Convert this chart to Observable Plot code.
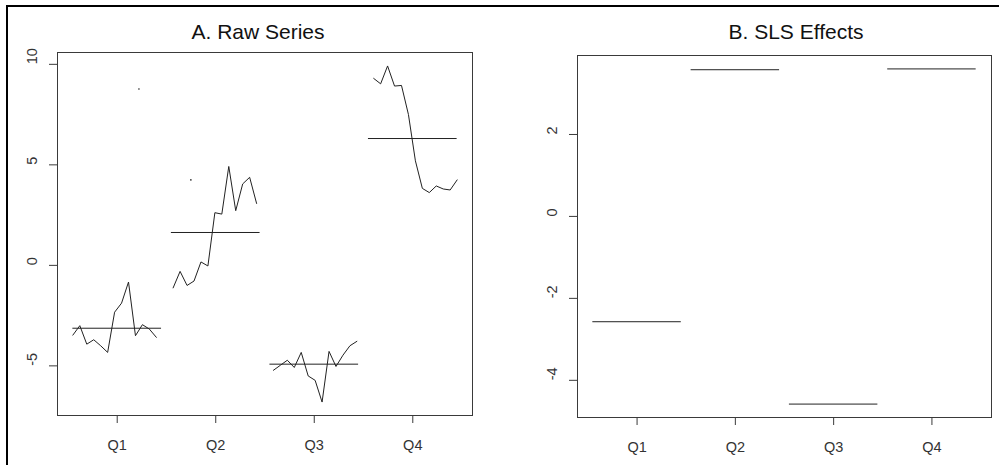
<!DOCTYPE html>
<html>
<head>
<meta charset="utf-8">
<script src="https://cdn.jsdelivr.net/npm/d3@7"></script>
<script src="https://cdn.jsdelivr.net/npm/@observablehq/plot@0.6"></script>
<style>
  body { margin: 0; background: #fff; }
  #page { position: relative; width: 999px; height: 465px; overflow: hidden; background: #fff;
          font-family: "Liberation Sans", Arial, sans-serif; }
  #frame { position: absolute; left: 6px; top: 5px; width: 1010px; height: 480px;
           border-left: 2px solid #000; border-top: 2px solid #000; }
  .panel { position: absolute; top: 0; }
  .title { position: absolute; top: 21px; font-size: 21px; line-height: 21px; color: #111;
           transform: translateX(-50%); white-space: nowrap; }
</style>
</head>
<body>
<div id="page">
  <div id="frame"></div>
  <div class="panel" id="panelA" style="left:0px"></div>
  <div class="panel" id="panelB" style="left:500px"></div>
  <div class="title" style="left:258px">A. Raw Series</div>
  <div class="title" style="left:796px">B. SLS Effects</div>
</div>
<script>
// Quarterly sub-series, one value per year (13 years)
const quarters = ["Q1", "Q2", "Q3", "Q4"];
const q1Raw = [-3.47, -3.0, -3.92, -3.7, -4.0, -4.33, -2.33, -1.88, -0.83, -3.5, -2.95, -3.17, -3.58];
const q2Raw = [-1.12, -0.3, -1.0, -0.78, 0.17, -0.03, 2.62, 2.55, 4.92, 2.72, 4.05, 4.38, 3.08];
const q3Raw = [-5.22, -4.97, -4.72, -5.08, -4.33, -5.5, -5.72, -6.8, -4.28, -5.03, -4.47, -4.0, -3.78];
const q4Raw = [9.3, 9.03, 9.92, 8.92, 8.95, 7.5, 5.2, 3.83, 3.62, 3.95, 3.8, 3.75, 4.25];
// isolated observations (quarter, time in years from start, value)
const strayQuarter = [1, 2];
const strayTime = [9.5, 2.8];
const strayValue = [8.77, 4.25];
// seasonal effects from the SLS fit
const slsEffects = [-2.57, 3.58, -4.58, 3.60];

const yTicksA = [-5, 0, 5, 10];
const yTicksB = [-4, -2, 0, 2];

const rawSeries = [q1Raw, q2Raw, q3Raw, q4Raw];
const nYears = q1Raw.length;
const timeSpan = (nYears - 1) + 3 / 4;
// monthplot-style placement: each sub-series spread over [i-0.45, i+0.45] by time
const xPos = (qi, t) => qi - 0.45 + 0.9 * t / timeSpan;

const rawRows = [];
rawSeries.forEach((vals, qi) => {
  vals.forEach((v, k) => rawRows.push({ quarter: quarters[qi], x: xPos(qi + 1, k + qi / 4), value: v }));
});
const strayRows = strayQuarter.map((q, i) => ({ x: xPos(q, strayTime[i]), value: strayValue[i] }));
const baseRows = rawSeries.map((vals, qi) => ({ q: qi + 1, value: d3.mean(vals) }));
const effectRows = slsEffects.map((v, qi) => ({ q: qi + 1, value: v }));

const xTicks = quarters.map((d, i) => i + 1);
const xLo = 1 - 0.45, xHi = quarters.length + 0.45;
const xDomain = [xLo - 0.04 * (xHi - xLo), xHi + 0.04 * (xHi - xLo)];
const padded = ([a, b]) => [a - 0.04 * (b - a), b + 0.04 * (b - a)];

const ink = "#222";
const boxInk = "#3a3a3a";
const labelSize = "14.5px";
const font = { fontFamily: "'Liberation Sans', Arial, sans-serif", fontSize: labelSize, background: "transparent", overflow: "visible", color: ink };

function panel({ width, mt, mr, mb, ml, yDomain, yTicks, marks }) {
  return Plot.plot({
    width, height: 465,
    marginTop: mt, marginRight: mr, marginBottom: mb, marginLeft: ml,
    style: font,
    x: { domain: xDomain },
    y: { domain: yDomain },
    marks: [
      ...marks,
      Plot.frame({ stroke: boxInk, strokeWidth: 1 }),
      Plot.axisX({ ticks: xTicks, tickSize: 8, tickFormat: () => "", label: null, stroke: boxInk }),
      Plot.axisY({ ticks: yTicks, tickSize: 8, tickFormat: () => "", label: null, stroke: boxInk }),
      Plot.text(quarters, { x: (d, i) => i + 1, text: d => d, frameAnchor: "bottom", dy: 34, fill: "#333", fontSize: labelSize }),
      Plot.text(yTicks, { y: d => d, text: d => String(d), frameAnchor: "left", dx: -25, rotate: -90, fill: "#333", fontSize: labelSize })
    ]
  });
}

const allRaw = rawSeries.flat().concat(strayValue);
const chartA = panel({
  width: 500, mt: 52, mr: 28, mb: 50, ml: 57,
  yDomain: padded(d3.extent(allRaw)), yTicks: yTicksA,
  marks: [
    Plot.line(rawRows, { x: "x", y: "value", z: "quarter", stroke: ink, strokeWidth: 1 }),
    Plot.dot(strayRows, { x: "x", y: "value", r: 0.8, fill: ink, stroke: null }),
    Plot.ruleY(baseRows, { y: "value", x1: d => d.q - 0.45, x2: d => d.q + 0.45, stroke: ink, strokeWidth: 1 })
  ]
});

const chartB = panel({
  width: 499, mt: 55, mr: 8, mb: 48, ml: 77,
  yDomain: padded(d3.extent(slsEffects)), yTicks: yTicksB,
  marks: [
    Plot.ruleY(effectRows, { y: "value", x1: d => d.q - 0.45, x2: d => d.q + 0.45, stroke: ink, strokeWidth: 1 })
  ]
});

document.getElementById("panelA").appendChild(chartA);
document.getElementById("panelB").appendChild(chartB);
</script>
</body>
</html>
